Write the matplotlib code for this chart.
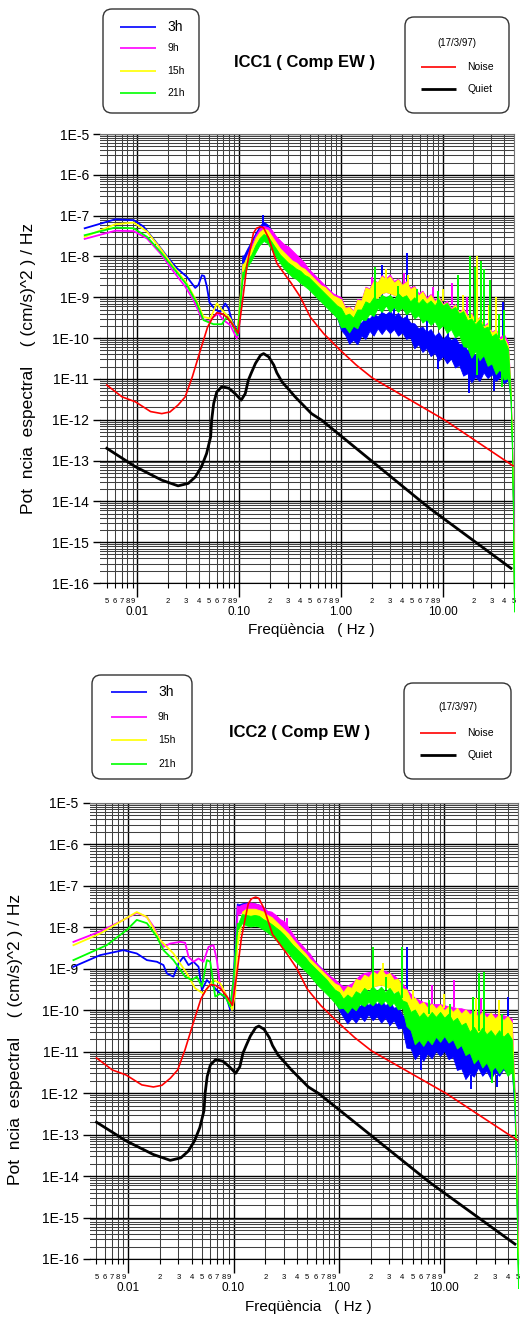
import numpy as np
import matplotlib
matplotlib.use("Agg")
import matplotlib.pyplot as plt
from matplotlib import font_manager
from matplotlib.patches import FancyBboxPatch
from matplotlib.lines import Line2D
from matplotlib.ticker import FixedLocator, FuncFormatter, NullFormatter

# ---- data (log10 frequency [Hz], log10 power [(cm/s)^2/Hz]) ----

# frequency grid of the noisy band (0.11 Hz .. 50 Hz)
HF_LOGF = [-0.96, -0.92, -0.88, -0.84, -0.80, -0.76, -0.72, -0.68, -0.64, -0.60,
           -0.56, -0.52, -0.48, -0.44, -0.40, -0.36, -0.32, -0.28, -0.24, -0.20,
           -0.16, -0.12, -0.08, -0.04, 0.00, 0.04, 0.08, 0.12, 0.16, 0.20,
           0.24, 0.28, 0.32, 0.36, 0.40, 0.44, 0.48, 0.52, 0.56, 0.60,
           0.64, 0.68, 0.72, 0.76, 0.80, 0.84, 0.88, 0.92, 0.96, 1.00,
           1.04, 1.08, 1.12, 1.16, 1.20, 1.24, 1.28, 1.32, 1.36, 1.40,
           1.44, 1.48, 1.52, 1.56, 1.60, 1.64, 1.665, 1.68, 1.69, 1.699]

# ---------------- ICC1 ----------------
ICC1_3H_LF_F = [-2.517, -2.216, -2.036, -1.938, -1.807, -1.693, -1.611, -1.513, -1.431, -1.40, -1.366,
                -1.343, -1.317, -1.291, -1.235, -1.186, -1.137, -1.105, -1.072, -1.023, -1.007]
ICC1_3H_LF_P = [-7.31, -7.09, -7.11, -7.27, -7.68, -8.05, -8.29, -8.50, -8.77, -8.70, -8.46,
                -8.48, -8.74, -9.13, -9.30, -9.36, -9.15, -9.27, -9.56, -9.80, -9.93]
ICC1_9H_LF_F = [-2.517, -2.216, -2.036, -1.905, -1.775, -1.644, -1.529, -1.448, -1.366, -1.301,
                -1.252, -1.203, -1.154, -1.088, -1.023, -1.005]
ICC1_9H_LF_P = [-7.57, -7.37, -7.38, -7.56, -7.92, -8.37, -8.74, -9.07, -9.52, -9.60,
                -9.48, -9.40, -9.56, -9.68, -10.01, -9.85]
ICC1_15H_LF_F = [-2.517, -2.216, -2.036, -1.905, -1.775, -1.644, -1.513, -1.415, -1.350, -1.284,
                 -1.219, -1.170, -1.088, -1.017]
ICC1_15H_LF_P = [-7.52, -7.21, -7.17, -7.39, -7.80, -8.25, -8.66, -9.11, -9.48, -9.52,
                 -9.15, -9.31, -9.52, -9.89]
ICC1_21H_LF_F = [-2.517, -2.216, -2.036, -1.905, -1.775, -1.644, -1.513, -1.415, -1.350, -1.252,
                 -1.170, -1.121, -1.072, -1.017]
ICC1_21H_LF_P = [-7.48, -7.29, -7.31, -7.52, -7.88, -8.29, -8.70, -9.15, -9.56, -9.66,
                 -9.66, -9.48, -9.64, -9.93]

# upper / lower edge of each noisy band (on HF_LOGF)
ICC1_3H_HI = [-8.00, -7.80, -7.62, -7.42, -7.25, -7.15, -7.22, -7.38, -7.52, -7.66,
              -7.80, -7.90, -8.05, -8.10, -8.22, -8.28, -8.42, -8.48, -8.60, -8.70,
              -8.80, -8.90, -9.00, -9.10, -9.30, -9.60, -9.62, -9.72, -9.60, -9.62,
              -9.48, -9.52, -9.40, -9.47, -9.36, -9.42, -9.33, -9.47, -9.38, -9.52,
              -9.46, -9.62, -9.64, -9.76, -9.72, -9.86, -9.78, -9.95, -9.86, -10.02,
              -9.92, -10.05, -9.98, -10.15, -10.12, -10.30, -10.32, -10.42, -10.26, -10.35,
              -10.20, -10.32, -10.24, -10.38, -10.30, -10.50, -11.30, -12.60, -14.20, -16.20]
ICC1_3H_LO = [-8.20, -8.00, -7.85, -7.65, -7.45, -7.35, -7.42, -7.62, -7.80, -7.95,
              -8.12, -8.25, -8.38, -8.45, -8.55, -8.62, -8.75, -8.82, -8.95, -9.02,
              -9.15, -9.22, -9.38, -9.48, -9.80, -9.92, -10.14, -10.04, -10.15, -9.94,
              -10.02, -9.82, -9.94, -9.76, -9.90, -9.76, -9.88, -9.78, -9.94, -9.86,
              -10.02, -9.98, -10.25, -10.15, -10.34, -10.24, -10.44, -10.36, -10.55, -10.44,
              -10.62, -10.50, -10.72, -10.66, -10.92, -10.86, -11.08, -10.95, -11.05, -10.84,
              -10.98, -10.88, -11.05, -10.95, -11.10, -11.04, -11.50, -12.80, -14.40, -16.40]
ICC1_9H_HI = [-8.25, -7.95, -7.72, -7.48, -7.32, -7.25, -7.28, -7.35, -7.50, -7.60,
              -7.70, -7.75, -7.85, -7.95, -8.05, -8.15, -8.30, -8.40, -8.50, -8.60,
              -8.70, -8.80, -8.90, -8.95, -9.00, -9.24, -9.22, -9.32, -9.04, -9.06,
              -8.74, -8.78, -8.56, -8.64, -8.45, -8.54, -8.44, -8.60, -8.54, -8.68,
              -8.60, -8.76, -8.72, -8.90, -8.84, -9.00, -8.92, -9.06, -8.98, -9.16,
              -9.08, -9.26, -9.16, -9.36, -9.26, -9.46, -9.38, -9.56, -9.48, -9.70,
              -9.62, -9.84, -9.78, -9.98, -9.90, -10.10, -11.20, -12.50, -14.10, -16.30]
ICC1_9H_LO = [-8.40, -8.10, -7.90, -7.68, -7.50, -7.45, -7.48, -7.60, -7.75, -7.90,
              -8.00, -8.10, -8.20, -8.30, -8.40, -8.50, -8.60, -8.70, -8.85, -8.95,
              -9.00, -9.10, -9.20, -9.30, -9.40, -9.48, -9.52, -9.52, -9.44, -9.40,
              -9.24, -9.16, -9.07, -9.00, -8.90, -8.87, -8.90, -8.94, -8.96, -8.98,
              -9.05, -9.16, -9.22, -9.30, -9.35, -9.40, -9.42, -9.45, -9.50, -9.55,
              -9.62, -9.72, -9.80, -9.88, -9.95, -10.00, -10.12, -10.20, -10.28, -10.35,
              -10.45, -10.50, -10.62, -10.70, -10.80, -10.90, -11.40, -12.70, -14.30, -16.50]
ICC1_15H_HI = [-8.20, -7.98, -7.80, -7.55, -7.40, -7.32, -7.35, -7.50, -7.65, -7.80,
               -7.90, -8.00, -8.10, -8.15, -8.25, -8.30, -8.40, -8.50, -8.60, -8.70,
               -8.75, -8.85, -8.95, -9.00, -9.05, -9.26, -9.24, -9.34, -9.06, -9.08,
               -8.76, -8.80, -8.60, -8.63, -8.48, -8.56, -8.49, -8.64, -8.56, -8.70,
               -8.62, -8.80, -8.74, -8.96, -8.86, -9.05, -8.94, -9.10, -9.00, -9.18,
               -9.12, -9.30, -9.18, -9.38, -9.28, -9.46, -9.40, -9.62, -9.48, -9.72,
               -9.66, -9.86, -9.80, -10.04, -9.98, -10.18, -11.20, -12.50, -14.10, -16.30]
ICC1_15H_LO = [-8.35, -8.10, -7.95, -7.72, -7.55, -7.48, -7.52, -7.70, -7.85, -8.05,
               -8.15, -8.30, -8.38, -8.45, -8.52, -8.60, -8.70, -8.80, -8.90, -9.00,
               -9.10, -9.20, -9.25, -9.35, -9.40, -9.48, -9.55, -9.52, -9.44, -9.40,
               -9.24, -9.16, -9.07, -9.00, -8.90, -8.87, -8.90, -8.94, -8.96, -8.98,
               -9.05, -9.16, -9.22, -9.30, -9.35, -9.40, -9.42, -9.48, -9.50, -9.58,
               -9.63, -9.72, -9.78, -9.88, -9.95, -10.05, -10.13, -10.20, -10.29, -10.35,
               -10.45, -10.52, -10.62, -10.78, -10.87, -10.95, -11.40, -12.70, -14.30, -16.50]
ICC1_21H_HI = [-8.40, -8.10, -7.95, -7.72, -7.55, -7.45, -7.50, -7.65, -7.80, -7.95,
               -8.05, -8.15, -8.22, -8.30, -8.35, -8.45, -8.50, -8.60, -8.70, -8.80,
               -8.90, -9.00, -9.10, -9.20, -9.26, -9.44, -9.40, -9.50, -9.30, -9.30,
               -9.10, -9.15, -9.00, -9.06, -8.94, -9.00, -8.94, -9.05, -8.90, -9.00,
               -8.95, -9.10, -9.00, -9.15, -9.04, -9.16, -9.08, -9.20, -9.05, -9.20,
               -9.14, -9.30, -9.24, -9.40, -9.34, -9.56, -9.52, -9.66, -9.54, -9.76,
               -9.72, -9.96, -9.88, -10.06, -10.02, -10.26, -11.30, -12.70, -14.40, -16.50]
ICC1_21H_LO = [-8.55, -8.25, -8.10, -7.90, -7.72, -7.62, -7.68, -7.85, -8.00, -8.15,
               -8.30, -8.40, -8.50, -8.55, -8.65, -8.72, -8.80, -8.90, -9.00, -9.10,
               -9.20, -9.30, -9.40, -9.50, -9.74, -9.72, -9.86, -9.70, -9.76, -9.54,
               -9.56, -9.40, -9.46, -9.26, -9.36, -9.20, -9.36, -9.24, -9.36, -9.25,
               -9.42, -9.34, -9.52, -9.44, -9.62, -9.54, -9.68, -9.58, -9.78, -9.68,
               -9.88, -9.78, -9.98, -9.92, -10.20, -10.22, -10.48, -10.32, -10.54, -10.42,
               -10.68, -10.62, -10.88, -10.76, -11.02, -10.98, -11.50, -12.90, -14.60, -16.70]

# narrow peaks and dips: log10 f, from, to
ICC1_3H_SPK = [(-0.765, -7.30, -6.98), (0.40, -9.50, -8.20), (0.645, -9.60, -7.92), (1.59, -10.40, -9.12),
               (0.10, -9.80, -9.45), (0.52, -9.50, -9.15), (0.84, -9.90, -9.55), (1.05, -10.05, -9.65),
               (1.22, -10.30, -9.85), (1.44, -10.35, -9.90), (0.95, -10.45, -10.75), (1.26, -10.90, -11.35),
               (1.50, -10.90, -11.30)]
ICC1_9H_SPK = [(0.90, -9.00, -8.74), (1.09, -9.20, -8.65), (0.30, -8.75, -8.50), (0.62, -8.70, -8.40),
               (1.24, -9.45, -9.00)]
ICC1_15H_SPK = [(1.34, -9.60, -8.00), (1.52, -9.90, -9.00), (0.44, -8.55, -8.30), (0.66, -8.75, -8.45),
                (1.00, -9.10, -8.80), (1.20, -9.35, -8.95), (1.45, -9.75, -9.20)]
ICC1_21H_SPK = [(0.333, -9.05, -8.26), (1.147, -9.30, -8.45), (1.265, -9.50, -8.00), (1.32, -9.60, -8.25),
                (1.37, -9.60, -8.10), (1.40, -9.70, -8.30), (1.46, -9.80, -8.58), (1.60, -10.10, -9.30),
                (0.56, -9.00, -8.72), (0.75, -9.10, -8.80), (0.95, -9.15, -8.85), (1.55, -10.00, -9.40),
                (1.34, -10.40, -10.90), (1.58, -10.80, -11.20)]

# ---------------- ICC2 ----------------
ICC2_3H_LF_F = [-2.519, -2.266, -2.045, -1.918, -1.822, -1.727, -1.665, -1.633, -1.57, -1.522, -1.475,
                -1.427, -1.38, -1.332, -1.30, -1.253, -1.19, -1.126, -1.063, -1.031, -1.0]
ICC2_3H_LF_P = [-8.95, -8.67, -8.55, -8.63, -8.79, -8.83, -8.91, -9.11, -9.19, -8.87, -8.71,
                -8.91, -8.83, -8.95, -9.51, -9.27, -9.43, -9.60, -9.72, -9.99, -9.27]
ICC2_9H_LF_F = [-2.519, -2.266, -2.045, -1.918, -1.822, -1.76, -1.696, -1.665, -1.60, -1.506, -1.459,
                -1.427, -1.38, -1.332, -1.285, -1.237, -1.19, -1.158, -1.126, -1.095, -1.047, -1.015, -0.984]
ICC2_9H_LF_P = [-8.35, -8.10, -7.82, -7.65, -7.75, -7.98, -8.31, -8.47, -8.39, -8.35, -8.37,
                -8.71, -8.83, -8.75, -8.83, -8.47, -8.43, -8.79, -9.43, -9.51, -9.75, -9.91, -8.95]
ICC2_15H_LF_F = [-2.519, -2.266, -1.918, -1.822, -1.696, -1.57, -1.443, -1.364, -1.285, -1.19,
                 -1.126, -1.063, -1.015, -0.984]
ICC2_15H_LF_P = [-8.43, -8.15, -7.63, -7.75, -8.31, -8.63, -9.11, -9.47, -9.60, -9.27,
                 -9.35, -9.67, -9.99, -9.60]
ICC2_21H_LF_F = [-2.519, -2.203, -2.012, -1.918, -1.822, -1.727, -1.665, -1.57, -1.459, -1.395,
                 -1.348, -1.30, -1.253, -1.221, -1.174, -1.126, -1.079, -1.031, -1.0]
ICC2_21H_LF_P = [-8.79, -8.43, -8.06, -7.82, -7.90, -8.23, -8.55, -8.79, -9.19, -9.27,
                 -9.19, -9.43, -8.79, -8.83, -9.67, -9.60, -9.67, -9.91, -9.27]

ICC2_3H_HI = [-7.45, -7.42, -7.40, -7.42, -7.42, -7.45, -7.52, -7.62, -7.72, -7.82,
              -7.92, -8.05, -8.15, -8.25, -8.35, -8.45, -8.55, -8.65, -8.78, -8.90,
              -9.00, -9.10, -9.20, -9.35, -9.50, -9.86, -9.78, -9.94, -9.80, -9.90,
              -9.76, -9.88, -9.74, -9.86, -9.74, -9.88, -9.80, -9.94, -9.90, -10.12,
              -10.14, -10.36, -10.34, -10.52, -10.38, -10.48, -10.32, -10.42, -10.28, -10.44,
              -10.40, -10.62, -10.56, -10.76, -10.68, -10.86, -10.74, -10.84, -10.72, -10.86,
              -10.74, -10.86, -10.72, -10.82, -10.68, -10.86, -12.20, -13.60, -15.00, -16.20]
ICC2_3H_LO = [-7.60, -7.62, -7.62, -7.65, -7.66, -7.70, -7.78, -7.92, -8.02, -8.12,
              -8.25, -8.40, -8.50, -8.60, -8.70, -8.82, -8.92, -9.02, -9.12, -9.25,
              -9.35, -9.48, -9.60, -9.75, -10.00, -10.16, -10.32, -10.18, -10.30, -10.14,
              -10.26, -10.10, -10.24, -10.14, -10.30, -10.18, -10.36, -10.24, -10.44, -10.42,
              -10.90, -10.92, -11.18, -11.04, -11.22, -11.04, -11.16, -10.98, -11.10, -10.98,
              -11.18, -11.12, -11.44, -11.40, -11.66, -11.52, -11.60, -11.38, -11.58, -11.46,
              -11.66, -11.48, -11.58, -11.42, -11.54, -11.44, -12.40, -13.80, -15.20, -16.40]
ICC2_9H_HI = [-7.50, -7.45, -7.42, -7.40, -7.42, -7.45, -7.50, -7.60, -7.62, -7.70,
              -7.80, -7.85, -8.00, -8.15, -8.30, -8.40, -8.52, -8.62, -8.78, -8.90,
              -9.00, -9.08, -9.18, -9.25, -9.35, -9.42, -9.40, -9.35, -9.25, -9.15,
              -9.10, -9.08, -9.06, -9.05, -9.03, -9.05, -9.10, -9.15, -9.25, -9.35,
              -9.48, -9.60, -9.70, -9.75, -9.80, -9.82, -9.85, -9.85, -9.85, -9.88,
              -9.90, -9.92, -9.95, -9.95, -9.98, -10.00, -10.02, -10.05, -10.05, -10.08,
              -10.08, -10.10, -10.10, -10.12, -10.15, -10.20, -11.80, -13.30, -14.80, -16.10]
ICC2_9H_LO = [-7.68, -7.65, -7.65, -7.62, -7.65, -7.70, -7.78, -7.90, -7.95, -8.05,
              -8.15, -8.28, -8.40, -8.52, -8.65, -8.78, -8.90, -9.00, -9.12, -9.25,
              -9.35, -9.45, -9.55, -9.62, -9.70, -9.72, -9.72, -9.68, -9.60, -9.52,
              -9.48, -9.45, -9.42, -9.40, -9.38, -9.40, -9.45, -9.50, -9.58, -9.70,
              -9.85, -10.00, -10.10, -10.15, -10.20, -10.25, -10.28, -10.30, -10.32, -10.35,
              -10.38, -10.40, -10.42, -10.45, -10.48, -10.50, -10.52, -10.55, -10.58, -10.60,
              -10.60, -10.62, -10.65, -10.68, -10.70, -10.75, -12.00, -13.50, -15.00, -16.30]
ICC2_15H_HI = [-8.20, -7.62, -7.55, -7.55, -7.55, -7.58, -7.62, -7.70, -7.75, -7.85,
               -7.95, -8.05, -8.15, -8.28, -8.40, -8.52, -8.62, -8.75, -8.85, -8.95,
               -9.05, -9.15, -9.25, -9.35, -9.40, -9.56, -9.42, -9.46, -9.24, -9.28,
               -9.14, -9.20, -9.06, -9.13, -9.00, -9.14, -9.10, -9.26, -9.24, -9.46,
               -9.50, -9.74, -9.70, -9.86, -9.80, -9.94, -9.84, -9.96, -9.86, -10.00,
               -9.90, -10.04, -9.94, -10.08, -9.98, -10.10, -10.02, -10.16, -10.04, -10.18,
               -10.06, -10.20, -10.10, -10.24, -10.14, -10.30, -11.90, -13.40, -14.90, -16.20]
ICC2_15H_LO = [-8.40, -7.82, -7.80, -7.80, -7.82, -7.85, -7.90, -7.98, -8.05, -8.15,
               -8.25, -8.38, -8.50, -8.62, -8.75, -8.88, -9.00, -9.10, -9.20, -9.30,
               -9.40, -9.50, -9.60, -9.68, -9.72, -9.75, -9.75, -9.70, -9.62, -9.55,
               -9.51, -9.48, -9.43, -9.40, -9.38, -9.42, -9.48, -9.55, -9.62, -9.75,
               -9.95, -10.08, -10.16, -10.20, -10.25, -10.28, -10.30, -10.32, -10.35, -10.38,
               -10.40, -10.42, -10.45, -10.48, -10.50, -10.52, -10.55, -10.58, -10.60, -10.62,
               -10.62, -10.65, -10.68, -10.70, -10.72, -10.78, -12.10, -13.60, -15.10, -16.40]
ICC2_21H_HI = [-7.92, -7.68, -7.70, -7.72, -7.70, -7.72, -7.80, -7.85, -7.92, -8.00,
               -8.08, -8.18, -8.30, -8.42, -8.52, -8.62, -8.72, -8.85, -8.95, -9.05,
               -9.15, -9.25, -9.38, -9.50, -9.56, -9.72, -9.62, -9.70, -9.54, -9.60,
               -9.46, -9.55, -9.42, -9.53, -9.43, -9.56, -9.46, -9.60, -9.54, -9.76,
               -9.80, -10.04, -9.98, -10.16, -10.05, -10.18, -10.04, -10.16, -10.04, -10.18,
               -10.08, -10.26, -10.18, -10.36, -10.30, -10.52, -10.40, -10.56, -10.42, -10.58,
               -10.48, -10.62, -10.48, -10.64, -10.54, -10.70, -12.00, -13.60, -15.30, -16.50]
ICC2_21H_LO = [-8.05, -7.90, -7.95, -7.98, -7.96, -7.98, -8.05, -8.12, -8.20, -8.30,
               -8.40, -8.52, -8.62, -8.75, -8.85, -8.95, -9.05, -9.15, -9.28, -9.40,
               -9.50, -9.60, -9.70, -9.82, -9.96, -9.94, -10.06, -9.92, -10.00, -9.84,
               -9.90, -9.80, -9.88, -9.76, -9.86, -9.76, -9.90, -9.82, -9.98, -9.94,
               -10.38, -10.48, -10.82, -10.72, -10.86, -10.70, -10.82, -10.64, -10.76, -10.62,
               -10.78, -10.70, -10.92, -10.84, -11.08, -11.02, -11.28, -11.16, -11.38, -11.26,
               -11.48, -11.36, -11.52, -11.38, -11.58, -11.48, -12.20, -13.80, -15.50, -16.70]

ICC2_3H_SPK = [(0.647, -10.20, -8.47), (1.60, -10.75, -9.67), (0.30, -9.85, -9.55), (0.50, -9.90, -9.55),
               (0.95, -10.40, -9.95), (1.15, -10.70, -10.30), (1.40, -10.80, -10.35),
               (0.78, -11.10, -11.45), (1.25, -11.55, -11.90), (1.50, -11.55, -11.85)]
ICC2_9H_SPK = [(-0.49, -8.00, -7.78), (0.886, -9.85, -9.39), (1.09, -9.92, -9.27), (1.35, -10.05, -9.70)]
ICC2_15H_SPK = [(0.42, -9.05, -8.85), (0.70, -9.75, -9.50), (1.00, -9.95, -9.60), (1.30, -10.10, -9.70),
                (1.52, -10.15, -9.75)]
ICC2_21H_SPK = [(0.32, -9.48, -8.47), (0.60, -9.70, -8.47), (1.27, -10.45, -9.67),
                (1.33, -10.50, -9.11), (1.38, -10.50, -9.07), (0.45, -9.50, -9.20), (0.85, -10.10, -9.75),
                (1.05, -10.20, -9.85), (1.55, -10.60, -10.10), (1.45, -11.40, -11.75)]

# reference curves (same on both panels)
NOISE_F = [-2.30, -2.15, -2.02, -1.87, -1.76, -1.68, -1.60, -1.53, -1.46, -1.38, -1.31, -1.26,
           -1.22, -1.17, -1.12, -1.06, -1.01, -0.97, -0.925, -0.89, -0.86, -0.83, -0.79, -0.76,
           -0.71, -0.63, -0.49, -0.40, -0.30, -0.17, -0.01, 0.15, 0.31, 1.02, 1.69]
NOISE_P = [-11.15, -11.44, -11.56, -11.80, -11.85, -11.81, -11.64, -11.44, -10.95, -10.29, -9.73, -9.50,
           -9.38, -9.40, -9.49, -9.68, -9.88, -9.15, -8.25, -7.80, -7.43, -7.31, -7.27, -7.30,
           -7.55, -8.17, -8.65, -8.99, -9.49, -9.89, -10.29, -10.66, -10.98, -12.01, -13.13]
QUIET_F = [-2.30, -2.02, -1.76, -1.60, -1.50, -1.43, -1.37, -1.32, -1.28, -1.27, -1.25, -1.22,
           -1.17, -1.10, -1.04, -0.98, -0.94, -0.91, -0.88, -0.84, -0.79, -0.76, -0.71, -0.66,
           -0.63, -0.58, -0.45, -0.29, -0.19, 0.86, 1.67]
QUIET_P = [-12.70, -13.15, -13.48, -13.62, -13.56, -13.40, -13.15, -12.83, -12.42, -12.01, -11.60, -11.32,
           -11.19, -11.23, -11.36, -11.52, -11.36, -11.03, -10.85, -10.62, -10.42, -10.38, -10.46, -10.66,
           -10.85, -11.07, -11.44, -11.85, -12.01, -14.15, -15.64]

HOURS = ["3h", "9h", "15h", "21h"]
COLORS = ["#0000ff", "#ff00ff", "#ffff00", "#00ff00"]

PANELS = [
    dict(title="ICC1 ( Comp EW )",
         lf=[(ICC1_3H_LF_F, ICC1_3H_LF_P), (ICC1_9H_LF_F, ICC1_9H_LF_P),
             (ICC1_15H_LF_F, ICC1_15H_LF_P), (ICC1_21H_LF_F, ICC1_21H_LF_P)],
         band=[(ICC1_3H_HI, ICC1_3H_LO), (ICC1_9H_HI, ICC1_9H_LO),
               (ICC1_15H_HI, ICC1_15H_LO), (ICC1_21H_HI, ICC1_21H_LO)],
         spikes=[ICC1_3H_SPK, ICC1_9H_SPK, ICC1_15H_SPK, ICC1_21H_SPK]),
    dict(title="ICC2 ( Comp EW )",
         lf=[(ICC2_3H_LF_F, ICC2_3H_LF_P), (ICC2_9H_LF_F, ICC2_9H_LF_P),
             (ICC2_15H_LF_F, ICC2_15H_LF_P), (ICC2_21H_LF_F, ICC2_21H_LF_P)],
         band=[(ICC2_3H_HI, ICC2_3H_LO), (ICC2_9H_HI, ICC2_9H_LO),
               (ICC2_15H_HI, ICC2_15H_LO), (ICC2_21H_HI, ICC2_21H_LO)],
         spikes=[ICC2_3H_SPK, ICC2_9H_SPK, ICC2_15H_SPK, ICC2_21H_SPK]),
]

# ---- layout (pixels of the 520x1317 picture) ----
W, H = 520, 1317
plt.rcParams["font.family"] = ["Liberation Sans", "DejaVu Sans"]
_names = {f.name for f in font_manager.fontManager.ttflist}
if "Liberation Sans Narrow" in _names:
    NARROW, TITLE_SIZE, BIG_SIZE = "Liberation Sans Narrow", 14.5, 11.5
else:
    NARROW, TITLE_SIZE, BIG_SIZE = "Liberation Sans", 12, 10

AX_BOX = [(100, 134, 514, 583), (89.5, 803, 518, 1259)]
YLABEL_Y = [0.478, 0.482]
LEG1 = [dict(box=(103, 9, 199, 113), x0=120, x1=156, tx=167, rows=[27, 48, 71, 93]),
        dict(box=(92, 675, 192, 779), x0=111, x1=147, tx=158, rows=[692, 717, 740, 764])]
LEG2 = [dict(box=(405, 17, 509, 113), date=(457, 43), x0=421, x1=456, tx=467, rows=[67, 89]),
        dict(box=(404, 683, 511, 779), date=(458, 707), x0=420, x1=456, tx=467, rows=[733, 755])]
TITLE_POS = [(305, 63), (300, 732)]


def fx(x):
    return x / W


def fy(y):
    return 1 - y / H


def rbox(fig, x0, y0, x1, y1):
    p = FancyBboxPatch((fx(x0), fy(y1)), fx(x1) - fx(x0), fy(y0) - fy(y1),
                       boxstyle="round,pad=0,rounding_size=%f" % (9 / W),
                       mutation_aspect=W / H, transform=fig.transFigure,
                       fc="white", ec="#333333", lw=1.0)
    fig.add_artist(p)


def hline(fig, x0, x1, y, color, lw):
    fig.add_artist(Line2D([fx(x0), fx(x1)], [fy(y), fy(y)], transform=fig.transFigure,
                          color=color, lw=lw, solid_capstyle="butt"))


fig = plt.figure(figsize=(W / 100, H / 100), dpi=100)

x_major = [0.01, 0.1, 1.0, 10.0]
x_major_lbl = {0.01: "0.01", 0.1: "0.10", 1.0: "1.00", 10.0: "10.00"}
x_minor = [m * 10.0 ** e for e in range(-3, 2) for m in range(2, 10)
           if 0.0045 < m * 10.0 ** e < 51]
y_major = [10.0 ** e for e in range(-16, -4)]
y_minor = [m * 10.0 ** e for e in range(-16, -5) for m in range(2, 10)]
hf_f = 10 ** np.array(HF_LOGF)

for k, panel in enumerate(PANELS):
    l, t, r, b = AX_BOX[k]
    ax = fig.add_axes([fx(l), fy(b), (r - l) / W, (b - t) / H])
    ax.set_xscale("log")
    ax.set_yscale("log")
    ax.set_xlim(0.0043, 50)
    ax.set_ylim(1e-16, 1e-5)

    ax.xaxis.set_major_locator(FixedLocator(x_major))
    ax.xaxis.set_minor_locator(FixedLocator(x_minor))
    ax.xaxis.set_major_formatter(FuncFormatter(lambda v, p: x_major_lbl.get(round(v, 4), "")))
    ax.xaxis.set_minor_formatter(FuncFormatter(lambda v, p: "%d" % round(v / 10 ** np.floor(np.log10(v) + 1e-9))))
    ax.yaxis.set_major_locator(FixedLocator(y_major))
    ax.yaxis.set_minor_locator(FixedLocator(y_minor))
    ax.yaxis.set_major_formatter(FuncFormatter(lambda v, p: "1E%d" % round(np.log10(v))))
    ax.yaxis.set_minor_formatter(NullFormatter())

    ax.tick_params(axis="x", which="major", length=10, width=1.0, pad=6.5, labelsize=8.5)
    ax.tick_params(axis="x", which="minor", length=3.6, width=0.8, pad=7.5, labelsize=5.5)
    ax.tick_params(axis="y", which="major", length=5, width=1.0, pad=3, labelsize=10)
    ax.tick_params(axis="y", which="minor", length=0)

    ax.set_axisbelow(True)
    ax.grid(True, which="major", color="black", lw=1.0)
    ax.grid(True, which="minor", color="0.25", lw=0.75)
    ax.spines["left"].set_visible(False)
    for side in ["top", "right"]:
        ax.spines[side].set_color("0.45")
    ax.spines["bottom"].set_color("black")

    # spectra: smooth low-frequency line, then the noisy band with its peaks and dips
    for (lf_f, lf_p), (hi, lo), spk, col in zip(panel["lf"], panel["band"], panel["spikes"], COLORS):
        ax.plot(10 ** np.array(lf_f + HF_LOGF[:1]), 10 ** np.array(lf_p + hi[:1]),
                color=col, lw=1.3, clip_on=False, zorder=3)
        ax.fill_between(hf_f, 10 ** np.array(lo), 10 ** np.array(hi), color=col,
                        lw=0.6, clip_on=False, zorder=3)
        s = np.array(spk)
        ax.vlines(10 ** s[:, 0], 10 ** s[:, 1], 10 ** s[:, 2], color=col, lw=1.4, zorder=3)
    ax.plot(10 ** np.array(NOISE_F), 10 ** np.array(NOISE_P), color="#ff0000", lw=1.2, zorder=4)
    ax.plot(10 ** np.array(QUIET_F), 10 ** np.array(QUIET_P), color="black", lw=2.0, zorder=4)

    ax.set_ylabel("Pot  ncia  espectral    ( (cm/s)^2 ) / Hz", fontsize=12.5, va="center")
    ax.yaxis.set_label_coords(-0.172, YLABEL_Y[k])
    ax.set_xlabel("Freqüència   ( Hz )", fontsize=11, va="center")
    ax.xaxis.set_label_coords(0.51, -0.105)

    # legend of the hours
    g = LEG1[k]
    rbox(fig, *g["box"])
    for hname, col, yy in zip(HOURS, COLORS, g["rows"]):
        hline(fig, g["x0"], g["x1"], yy, col, 1.2)
        fig.text(fx(g["tx"]), fy(yy), hname, family=NARROW, ha="left", va="center",
                 fontsize=BIG_SIZE if hname == "3h" else 7.5)

    # legend of the reference curves
    g = LEG2[k]
    rbox(fig, *g["box"])
    fig.text(fx(g["date"][0]), fy(g["date"][1]), "(17/3/97)", fontsize=7, ha="center", va="center")
    for name, col, lw, yy in zip(["Noise", "Quiet"], ["#ff0000", "black"], [1.2, 2.0], g["rows"]):
        hline(fig, g["x0"], g["x1"], yy, col, lw)
        fig.text(fx(g["tx"]), fy(yy), name, fontsize=7.5, ha="left", va="center")

    tx, ty = TITLE_POS[k]
    fig.text(fx(tx), fy(ty), panel["title"], family=NARROW, fontweight="bold",
             fontsize=TITLE_SIZE, ha="center", va="center")

fig.savefig("out.png", dpi=100)
